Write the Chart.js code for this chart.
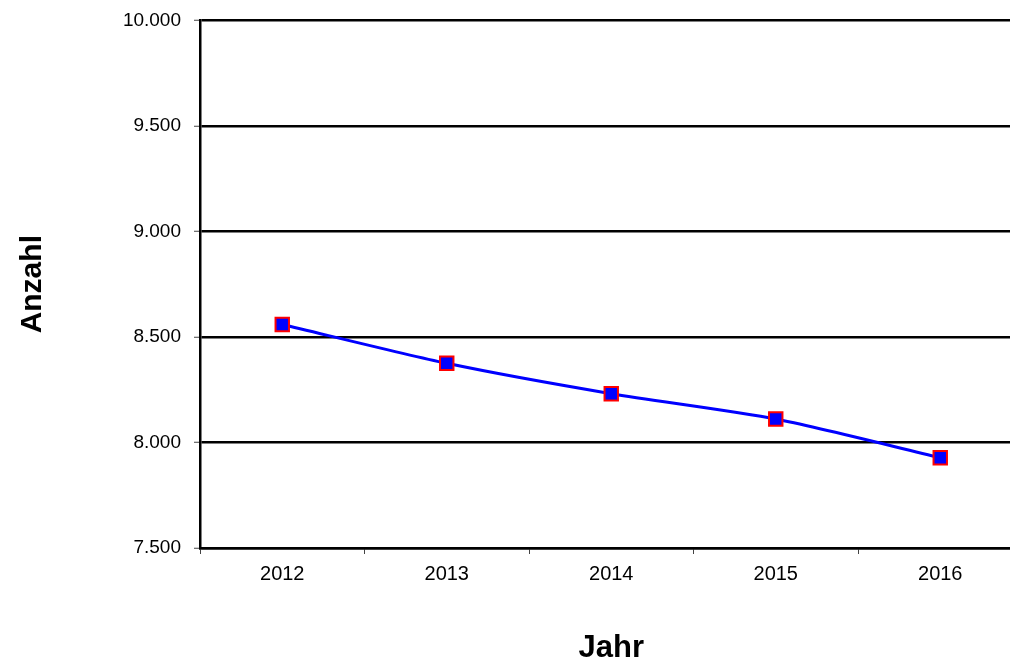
<!DOCTYPE html>
<html>
<head>
<meta charset="utf-8">
<script src="https://cdn.jsdelivr.net/npm/chart.js@4"></script>
<style>
  html, body { margin: 0; padding: 0; background: #fff; overflow: hidden; }
  #wrap { width: 1034px; height: 668px; margin-top: -4px; }
</style>
</head>
<body>
<div id="wrap"><canvas id="chart" width="1034" height="668"></canvas></div>
<script>
// chart data
const years = ['2012', '2013', '2014', '2015', '2016'];
const anzahl = [8559, 8375, 8231, 8111, 7928];
const yMin = 7500;
const yMax = 10000;
const yStep = 500;

// 10000 -> "10.000"
function formatDe(v) {
    return String(v).replace(/\B(?=(\d{3})+(?!\d))/g, '.');
}

const font = 'Liberation Sans, Arial, sans-serif';

const ctx = document.getElementById('chart').getContext('2d');
new Chart(ctx, {
    type: 'line',
    data: {
        labels: years,
        datasets: [{
            label: 'Anzahl',
            data: anzahl,
            borderColor: '#0000ff',
            borderWidth: 3,
            backgroundColor: '#0000ff',
            tension: 0.25,
            pointStyle: 'rect',
            pointRadius: 9.5,
            pointBorderColor: '#ff0000',
            pointBorderWidth: 2,
            pointBackgroundColor: '#0000ff'
        }]
    },
    options: {
        responsive: false,
        animation: false,
        layout: { padding: { top: 16, left: 0, right: 0, bottom: 0 } },
        plugins: {
            legend: { display: false },
            tooltip: { enabled: false }
        },
        scales: {
            x: {
                offset: true,
                grid: {
                    offset: true,
                    drawOnChartArea: false,
                    tickLength: 6,
                    tickColor: '#444444',
                    tickWidth: 1
                },
                border: { color: '#000000', width: 2.5 },
                ticks: { color: '#000000', padding: 8, font: { family: font, size: 20 } },
                title: {
                    display: true,
                    text: 'Jahr',
                    color: '#000000',
                    font: { family: font, size: 31, weight: 'bold' },
                    padding: { top: 0, bottom: -3 }
                },
                afterFit: (scale) => { scale.height = 116; }
            },
            y: {
                min: yMin,
                max: yMax,
                grid: {
                    color: '#000000',
                    lineWidth: 2.5,
                    tickLength: 6,
                    tickColor: '#444444',
                    tickWidth: 1
                },
                border: { color: '#000000', width: 2.5 },
                ticks: {
                    stepSize: yStep,
                    color: '#000000',
                    padding: 13,
                    font: { family: font, size: 19 },
                    callback: (v) => formatDe(v)
                },
                title: {
                    display: true,
                    text: 'Anzahl',
                    color: '#000000',
                    font: { family: font, size: 30, weight: 'bold' },
                    padding: { top: 15, bottom: 0 }
                },
                afterFit: (scale) => { scale.width = 200; }
            }
        }
    }
});
</script>
</body>
</html>
